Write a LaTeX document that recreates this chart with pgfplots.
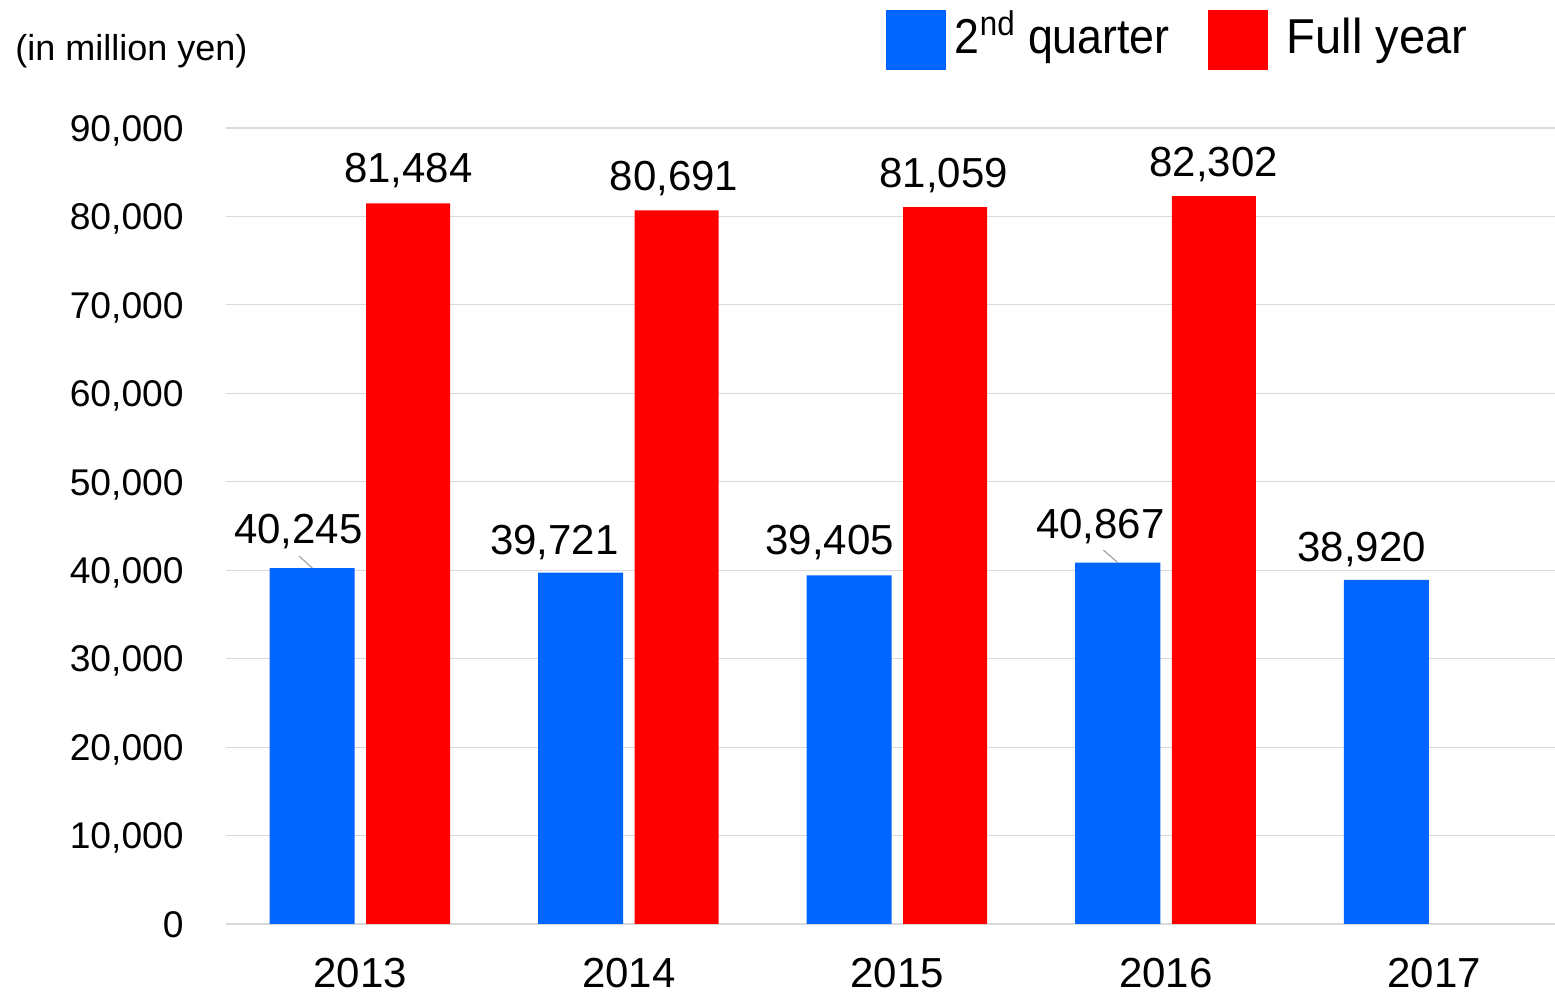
\documentclass[border=0pt]{standalone}
\usepackage{pgfplots}
\usepackage{pgfplotstable}
\usepackage{graphicx}
\usepackage{fontspec}
\setmainfont{Liberation Sans}
\pgfplotsset{compat=1.18}
\definecolor{qblue}{HTML}{0066FF}
\definecolor{fred}{HTML}{FF0000}
\definecolor{gridgray}{HTML}{D9D9D9}
\definecolor{leadgray}{HTML}{A6A6A6}
\pgfplotsset{
  /pgf/number format/assume math mode=true,
  sq legend/.style={legend image code/.code={\fill[##1] (0pt,-8.25pt) rectangle (30pt,21.75pt);}},
}

% x: category index, y: value, dx/dy: label offsets in pt (dx relative to category centre)
\pgfplotstableread{
x y dx dy
0 40245 -31 12.5
1 39721 -37.25 8.85
2 39405 -33.75 10.25
3 40867 -32.7 12.15
4 38920 -36.25 9.05
}\quarter

\pgfplotstableread{
x y dx dy
0 81484 24 10.2
1 80691 22.6 9.8
2 81059 23.25 9.6
3 82302 24 9.6
}\fullyear

\begin{document}
\begin{tikzpicture}
\begin{axis}[
  scale only axis, width=664.5pt, height=398pt,
  xmin=-0.5, xmax=4.4497, ymin=0, ymax=90000,
  clip=false,
  axis line style={draw=none},
  major tick length=0pt,
  xtick={0,1,2,3,4}, xticklabels={2013,2014,2015,2016,2017},
  ytick={0,10000,...,90000},
  scaled y ticks=false,
  yticklabel style={/pgf/number format/fixed, /pgf/number format/1000 sep={,},
    font=\fontsize{18.6}{22}\selectfont, anchor=base east, inner sep=0pt,
    xshift=-21pt, yshift=-6.66pt},
  xticklabel style={font=\fontsize{21}{25}\selectfont, anchor=base, inner sep=0pt, yshift=-32pt},
  ymajorgrids, major grid style={draw=gridgray, line width=0.6pt},
  legend columns=2,
  legend style={at={(axis description cs:0.4966,1.1106)}, anchor=west,
    draw=none, fill=none, inner sep=0pt, outer sep=0pt,
    font=\fontsize{24.5}{29}\selectfont,
    column sep=4.5pt, /tikz/every even column/.append style={column sep=19pt},
    nodes={inner sep=0pt, anchor=base west}},
]
\addplot[ybar, bar width=42.5pt, bar shift=-24pt, fill=qblue, draw=none, sq legend,
  point meta=y,
  nodes near coords={\pgfmathprintnumber[fixed,precision=0,1000 sep={,}]{\pgfplotspointmeta}},
  visualization depends on={\thisrow{dx} \as \labdx},
  visualization depends on={\thisrow{dy} \as \labdy},
  nodes near coords style={font=\fontsize{21}{25}\selectfont, anchor=base, inner sep=0pt,
    text=black, xshift=\labdx pt, yshift=\labdy pt},
] table[x=x,y=y] {\quarter};
\addlegendentry{\scalebox{0.913}[1]{2\textsuperscript{nd} quarter}}

\addplot[ybar, bar width=42pt, bar shift=24pt, fill=fred, draw=none, sq legend,
  point meta=y,
  nodes near coords={\pgfmathprintnumber[fixed,precision=0,1000 sep={,}]{\pgfplotspointmeta}},
  visualization depends on={\thisrow{dx} \as \labdx},
  visualization depends on={\thisrow{dy} \as \labdy},
  nodes near coords style={font=\fontsize{21}{25}\selectfont, anchor=base, inner sep=0pt,
    text=black, xshift=\labdx pt, yshift=\labdy pt},
] table[x=x,y=y] {\fullyear};
\addlegendentry{\hspace{5pt}\scalebox{0.961}[1]{Full year}}

% leader lines from offset labels to their bars
\addplot[forget plot, no marks, draw=leadgray, line width=0.6pt] coordinates {(-0.2281,41608) (-0.1788,40245)};
\addplot[forget plot, no marks, draw=leadgray, line width=0.6pt] coordinates {(2.7674,42287) (2.8212,40867)};

\node[anchor=base west, inner sep=0pt, font=\fontsize{18}{22}\selectfont]
  at (axis description cs:-0.1588,1.0842) {(in million yen)};
\end{axis}
\pgfresetboundingbox
\path[use as bounding box] (-113pt,-35.5pt) rectangle (664.5pt,462pt);
\end{tikzpicture}
\end{document}
